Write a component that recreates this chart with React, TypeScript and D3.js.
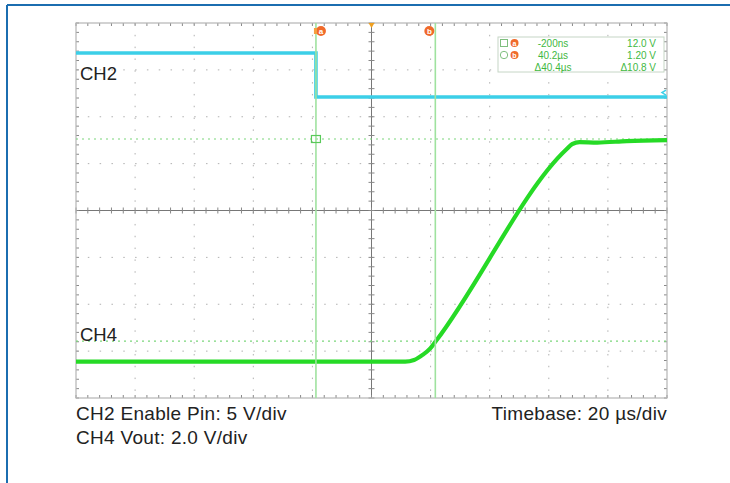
import * as d3 from 'd3'

// time in µs, volts per channel
const ch2Time = [-81.4, -0.2, -0.2, 118.6]
const ch2Volts = [11.8, 11.8, 7.1, 7.1]
const ch4Time = [-81.4, 30, 33, 36, 38.5, 40.4, 84.5, 86.5, 89, 95, 105, 118.6]
const ch4Volts = [0.05, 0.05, 0.12, 0.35, 0.62, 0.93, 9.1, 9.33, 9.42, 9.4, 9.46, 9.5]

const cursorTimes = [-0.2, 40.2]
const cursorNames = ['a', 'b']
const levelCursors = [9.55, 0.93] // CH4 volts

const readoutTimes = ['-200ns', '40.2µs', 'Δ40.4µs']
const readoutVolts = ['12.0 V', '1.20 V', 'Δ10.8 V']

const footLeft = ['CH2 Enable Pin: 5 V/div', 'CH4 Vout: 2.0 V/div']
const footRight = 'Timebase: 20 µs/div'

const W = 730
const H = 483
const frame = { left: 76, right: 667, top: 23, bottom: 398 }
const font = '"Liberation Sans", Arial, Helvetica, sans-serif'

export default function App() {
  const x = d3.scaleLinear().domain([-81.4, 118.6]).range([frame.left, frame.right])
  const div = d3.scaleLinear().domain([-4, 4]).range([frame.bottom, frame.top])
  const xDiv = d3.scaleLinear().domain([0, 10]).range([frame.left, frame.right])
  const ch2Y = (v: number) => div(v / 5 + 1.0)
  const ch4Y = (v: number) => div(v / 2 - 3.25)

  const ch2Line = d3.line<number>()
    .x((_, i) => x(ch2Time[i]))
    .y(d => ch2Y(d))
  const ch4Line = d3.line<number>()
    .x((_, i) => x(ch4Time[i]))
    .y(d => ch4Y(d))
    .curve(d3.curveMonotoneX)

  const cx = xDiv(5)
  const cy = div(0)
  const minorX = d3.range(0, 50.001, 1).map(i => xDiv(i / 5))
  const minorY = d3.range(0, 40.001, 1).map(i => div(-4 + i / 5))
  const dots = `1.5 ${(59.1 / 5 - 1.5).toFixed(2)}`

  return (
    <svg width={W} height={H} style={{ position: 'absolute', left: 0, top: 0, background: '#fff' }}>
      {/* outer blue border */}
      <line x1={7} y1={5} x2={W} y2={5} stroke="#1b6db0" strokeWidth={2} />
      <line x1={7} y1={5} x2={7} y2={H} stroke="#1b6db0" strokeWidth={2} />

      {/* grid */}
      {d3.range(1, 10).filter(i => i !== 5).map(i => (
        <line key={'gx' + i} x1={xDiv(i)} x2={xDiv(i)} y1={frame.top} y2={frame.bottom}
          stroke="#b0b0b0" strokeWidth={1} strokeDasharray={dots} />
      ))}
      {d3.range(-3, 4).filter(i => i !== 0).map(i => (
        <line key={'gy' + i} x1={frame.left} x2={frame.right} y1={div(i)} y2={div(i)}
          stroke="#b0b0b0" strokeWidth={1} strokeDasharray={dots} />
      ))}
      {/* center axes */}
      <line x1={cx} x2={cx} y1={frame.top} y2={frame.bottom} stroke="#777" strokeWidth={1} />
      <line x1={frame.left} x2={frame.right} y1={cy} y2={cy} stroke="#777" strokeWidth={1} />
      {minorX.map((px, i) => (
        <g key={'mx' + i} stroke="#888" strokeWidth={1}>
          <line x1={px} x2={px} y1={cy - 3} y2={cy + 3} />
          <line x1={px} x2={px} y1={frame.top} y2={frame.top + 3} />
          <line x1={px} x2={px} y1={frame.bottom - 3} y2={frame.bottom} />
        </g>
      ))}
      {minorY.map((py, i) => (
        <g key={'my' + i} stroke="#888" strokeWidth={1}>
          <line x1={cx - 3} x2={cx + 3} y1={py} y2={py} />
          <line x1={frame.left} x2={frame.left + 3} y1={py} y2={py} />
          <line x1={frame.right - 3} x2={frame.right} y1={py} y2={py} />
        </g>
      ))}
      <rect x={frame.left} y={frame.top} width={frame.right - frame.left} height={frame.bottom - frame.top}
        fill="none" stroke="#b5b5b5" strokeWidth={1.2} />

      {/* level cursors */}
      {levelCursors.map((v, i) => (
        <line key={'lc' + i} x1={frame.left} x2={frame.right} y1={ch4Y(v)} y2={ch4Y(v)}
          stroke="#7ad67a" strokeWidth={1.2} strokeDasharray="2 4" />
      ))}

      {/* traces */}
      <path d={ch2Line(ch2Volts) || ''} fill="none" stroke="#3ccfe8" strokeWidth={3.6} />
      <path d={ch4Line(ch4Volts) || ''} fill="none" stroke="#26da26" strokeWidth={4.2} strokeLinejoin="round" />

      {/* time cursors */}
      {cursorTimes.map((t, i) => (
        <line key={'tc' + i} x1={x(t)} x2={x(t)} y1={frame.top} y2={frame.bottom}
          stroke="#9fe29f" strokeWidth={1.6} />
      ))}
      <rect x={x(cursorTimes[0]) - 4.5} y={ch4Y(levelCursors[0]) - 3.5} width={9} height={7}
        fill="none" stroke="#59c959" strokeWidth={1.2} />

      {/* markers */}
      {cursorNames.map((n, i) => (
        <g key={'cm' + n}>
          <circle cx={x(cursorTimes[i]) + (i === 0 ? 5 : -6)} cy={31} r={5} fill="#f06a2a" />
          <text x={x(cursorTimes[i]) + (i === 0 ? 5 : -6)} y={34} fontSize={8} fontWeight="bold"
            fill="#fff" textAnchor="middle" fontFamily={font}>{n}</text>
        </g>
      ))}
      <rect x={x(cursorTimes[0]) - 2} y={28} width={3} height={6} fill="#f5a040" />
      <path d={`M${cx - 3},${frame.top} L${cx + 3},${frame.top} L${cx},${frame.top + 5} Z`} fill="#f0a020" />
      <path d={`M${frame.right - 1},${ch2Y(ch2Volts[3]) - 7} l-4,2.5 l4,2.5`} fill="none" stroke="#3ccfe8" strokeWidth={1.5} />

      {/* readout box */}
      <rect x={498} y={37} width={166} height={35} fill="#fff" stroke="#c6d6c6" strokeWidth={1} />
      <rect x={500.5} y={39.5} width={7} height={7} fill="none" stroke="#7fbf7f" strokeWidth={1} />
      <circle cx={504} cy={55} r={3.7} fill="none" stroke="#7fbf7f" strokeWidth={1} />
      {['a', 'b'].map((n, i) => (
        <g key={'rb' + n}>
          <circle cx={514.5} cy={43 + i * 12} r={4} fill="#f06a2a" />
          <text x={514.5} y={45.5 + i * 12} fontSize={7} fontWeight="bold" fill="#fff" textAnchor="middle" fontFamily={font}>{n}</text>
        </g>
      ))}
      {readoutTimes.map((s, i) => (
        <text key={'rt' + i} x={553} y={46.5 + i * 12} fontSize={10} fill="#3fb83f" textAnchor="middle" fontFamily={font}>{s}</text>
      ))}
      {readoutVolts.map((s, i) => (
        <text key={'rv' + i} x={656} y={46.5 + i * 12} fontSize={10} fill="#3fb83f" textAnchor="end" fontFamily={font}>{s}</text>
      ))}

      {/* channel labels */}
      <text x={80} y={80} fontSize={18.5} fill="#222" fontFamily={font}>CH2</text>
      <text x={80} y={341} fontSize={18.5} fill="#222" fontFamily={font}>CH4</text>

      {/* footer */}
      {footLeft.map((s, i) => (
        <text key={'fl' + i} x={76} y={420 + i * 24} fontSize={19} letterSpacing={0.3} fill="#222" fontFamily={font}>{s}</text>
      ))}
      <text x={667} y={420} fontSize={19} letterSpacing={0.3} fill="#222" textAnchor="end" fontFamily={font}>{footRight}</text>
    </svg>
  )
}
